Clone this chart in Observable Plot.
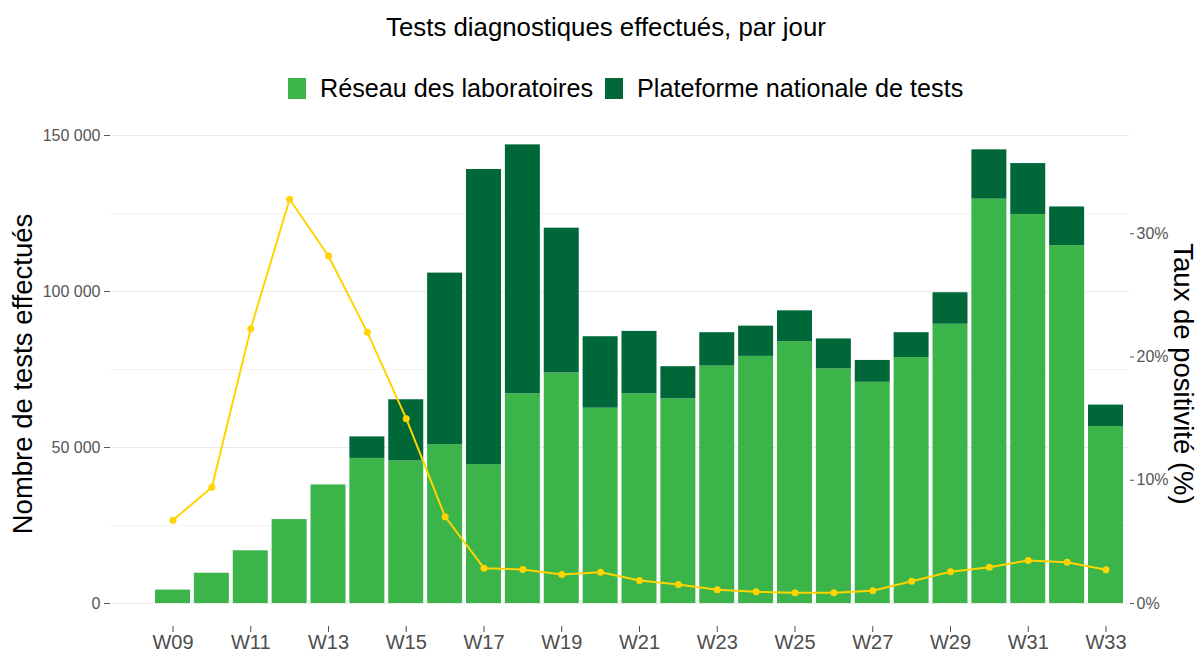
<!DOCTYPE html>
<html>
<head>
<meta charset="utf-8">
<script src="https://cdn.jsdelivr.net/npm/d3@7"></script>
<script src="https://cdn.jsdelivr.net/npm/@observablehq/plot@0.6"></script>
<style>
  html, body { margin: 0; padding: 0; background: #fff; }
  body { width: 1197px; height: 653px; overflow: hidden; font-family: "Liberation Sans", Arial, sans-serif; }
  #head { position: relative; width: 1197px; height: 110px; }
  #title { position: absolute; left: 0; width: 1212px; top: 12px; height: 30px; line-height: 30px; text-align: center; font-size: 25.8px; color: #000; }
  #legend { position: absolute; left: 288px; top: 73px; height: 30px; display: flex; align-items: center; font-size: 25.2px; color: #000; }
  .key { width: 18px; height: 21px; display: inline-block; }
  .lab { margin: 0 12px 0 14px; }
  #chart svg { display: block; }
</style>
</head>
<body>
<div id="head">
  <div id="title">Tests diagnostiques effectués, par jour</div>
  <div id="legend"></div>
</div>
<div id="chart"></div>
<script>
const weeks = ["W09","W10","W11","W12","W13","W14","W15","W16","W17","W18","W19","W20","W21","W22","W23","W24","W25","W26","W27","W28","W29","W30","W31","W32","W33"];
const labTests =      [4300, 9700, 16900, 26900, 38000, 46500, 45700, 50900, 44500, 67200, 73900, 62600, 67200, 65600, 76100, 79200, 83900, 75200, 70900, 78800, 89500, 129600, 124700, 114700, 56700];
const platformTests = [0, 0, 0, 0, 0, 6900, 19600, 55000, 94600, 79800, 46400, 22900, 20000, 10300, 10700, 9700, 9900, 9600, 7000, 8000, 10100, 15800, 16300, 12400, 6900];
const positivityRate = [6.76, 9.44, 22.3, 32.8, 28.2, 22.0, 15.0, 7.04, 2.87, 2.76, 2.35, 2.54, 1.87, 1.54, 1.11, 0.95, 0.87, 0.87, 1.03, 1.81, 2.57, 2.95, 3.49, 3.35, 2.74];
const seriesNames = ["Réseau des laboratoires", "Plateforme nationale de tests"];
const seriesColors = ["#3bb44a", "#006838"];
const yTicks = [0, 50000, 100000, 150000];
const yMinorTicks = [25000, 75000, 125000];
const pctTicks = [0, 10, 20, 30];
const xTickLabels = weeks.filter((w, i) => i % 2 === 0);
const PCT_FACTOR = 3950; // tests per 1 % on the secondary axis

const rows = weeks.flatMap((w, i) => [
  {week: w, series: seriesNames[0], value: labTests[i]},
  {week: w, series: seriesNames[1], value: platformTests[i]}
]);
const lineData = weeks.map((w, i) => ({week: w, pct: positivityRate[i]}));

// legend
const legend = document.getElementById("legend");
seriesNames.forEach((s, i) => {
  const k = document.createElement("span");
  k.className = "key"; k.style.background = seriesColors[i];
  const t = document.createElement("span");
  t.className = "lab"; t.textContent = s;
  legend.appendChild(k); legend.appendChild(t);
});

const fmt = d => d3.format(",")(d).replace(/,/g, " ");

const chart = Plot.plot({
  width: 1197,
  height: 543,
  marginLeft: 110,
  marginRight: 68,
  marginTop: 11,
  marginBottom: 27,
  style: {fontFamily: "Liberation Sans, Arial, sans-serif", background: "#fff", overflow: "visible"},
  x: {type: "band", domain: weeks, range: [153.06, 1124.94], paddingInner: 0.1, paddingOuter: 0.05, round: false},
  y: {domain: [0, 150000], range: [493, 25]},
  color: {domain: seriesNames, range: seriesColors},
  marks: [
    Plot.gridY(yMinorTicks, {stroke: "#ebebeb", strokeOpacity: 1, strokeWidth: 0.6}),
    Plot.gridY(yTicks, {stroke: "#ebebeb", strokeOpacity: 1, strokeWidth: 1.1}),
    Plot.barY(rows, {x: "week", y: "value", fill: "series", order: seriesNames}),
    Plot.line(lineData, {x: "week", y: d => d.pct * PCT_FACTOR, stroke: "#ffd400", strokeWidth: 2}),
    Plot.dot(lineData, {x: "week", y: d => d.pct * PCT_FACTOR, fill: "#ffd400", r: 3.5}),
    Plot.axisY({anchor: "left", ticks: yTicks, tickFormat: fmt, tickSize: 6, tickPadding: 4, fontSize: 16, color: "#555", label: null}),
    Plot.axisY({anchor: "right", ticks: pctTicks.map(p => p * PCT_FACTOR), tickFormat: d => Math.round(d / PCT_FACTOR) + "%", tickSize: 4, tickPadding: 3, fontSize: 16, color: "#555", label: null}),
    Plot.axisX({ticks: xTickLabels, tickSize: 6, tickPadding: 2, fontSize: 20, color: "#4d4d4d", label: null}),
    Plot.text(["Nombre de tests effectués"], {frameAnchor: "left", textAnchor: "middle", dx: -87, rotate: -90, fontSize: 27.5, fill: "#000"}),
    Plot.text(["Taux de positivité (%)"], {frameAnchor: "right", textAnchor: "middle", dx: 53, rotate: 90, fontSize: 27.5, fill: "#000"})
  ]
});
document.getElementById("chart").appendChild(chart);
</script>
</body>
</html>
